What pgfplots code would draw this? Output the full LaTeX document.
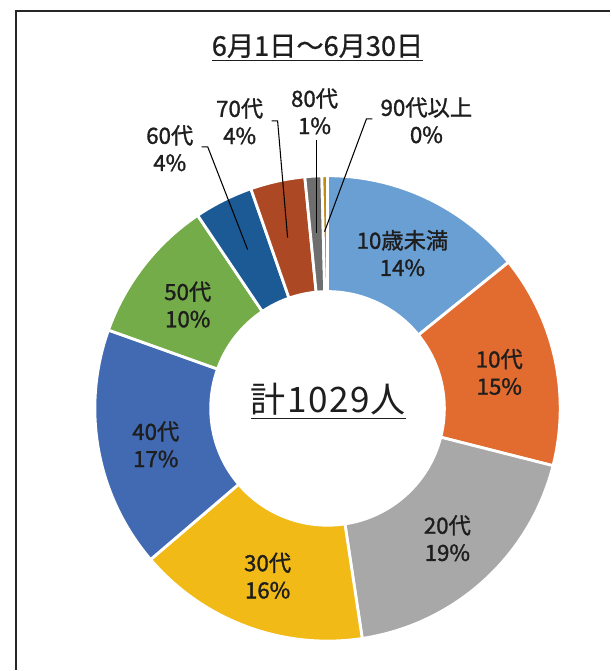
\documentclass[border=0pt]{standalone}
\usepackage{pgfplots}
\usepackage{pgfplotstable}
\pgfplotsset{compat=1.18}
\usepackage{fontspec}
\setmainfont{Noto Sans CJK JP}[FakeBold=1.3]
\newfontfamily\thinfont{Noto Sans CJK JP}[LetterSpace=4]
\newfontfamily\titlefont{Noto Sans CJK JP}[FakeBold=0.8]

\definecolor{c0}{RGB}{106,159,212}
\definecolor{c1}{RGB}{226,108,48}
\definecolor{c2}{RGB}{168,168,168}
\definecolor{c3}{RGB}{241,186,22}
\definecolor{c4}{RGB}{66,106,178}
\definecolor{c5}{RGB}{115,172,72}
\definecolor{c6}{RGB}{28,90,150}
\definecolor{c7}{RGB}{172,72,36}
\definecolor{c8}{RGB}{110,110,110}
\definecolor{c9}{RGB}{190,140,20}
\definecolor{txt}{RGB}{30,30,30}

% age group counts (total 1029)
\pgfplotstableread{
idx n
0 146
1 152
2 192
3 166
4 172
5 104
6 42
7 39
8 12
9 4
}\agedata

\begin{document}
\begin{tikzpicture}
\begin{axis}[
  x=0.02cm, y=0.02cm,
  xmin=0, xmax=611, ymin=0, ymax=671,
  hide axis, clip=false,
  scale only axis,
]
\fill[white] (axis cs:0,0) rectangle (axis cs:611,671);
% frame
\draw[black!85, line width=1.1pt] (axis cs:611,660) -- (axis cs:16,660) -- (axis cs:16,0);

\def\cx{328}
\def\cy{262}
\def\Ro{233}
\def\Ri{117}
\def\cum{0}
\pgfplotsforeachungrouped \i in {0,...,9}{%
  \pgfplotstablegetelem{\i}{n}\of\agedata
  \let\nval=\pgfplotsretval
  \pgfmathsetmacro{\sa}{90-\cum/1029*360}%
  \pgfmathsetmacro{\newcum}{\cum+\nval}%
  \global\let\cum=\newcum
  \pgfmathsetmacro{\ea}{90-\cum/1029*360}%
  \pgfmathsetmacro{\xa}{\cx+\Ro*cos(\sa)}%
  \pgfmathsetmacro{\ya}{\cy+\Ro*sin(\sa)}%
  \pgfmathsetmacro{\xb}{\cx+\Ri*cos(\ea)}%
  \pgfmathsetmacro{\yb}{\cy+\Ri*sin(\ea)}%
  \edef\cmd{\noexpand\filldraw[fill=c\i, draw=white, line width=1.6pt, line join=miter]
    (axis cs:\xa,\ya) arc[start angle=\sa, end angle=\ea, radius=4.66cm]
    -- (axis cs:\xb,\yb) arc[start angle=\ea, end angle=\sa, radius=2.34cm] -- cycle;}%
  \cmd
}

% leader lines
\addplot[black, line width=0.6pt] coordinates {(202,524) (208,524) (248,421)};
\addplot[black, line width=0.6pt] coordinates {(272,550) (278,550) (288,433)};
\addplot[black, line width=0.6pt] coordinates {(317,531) (317,438)};
\addplot[black, line width=0.6pt] coordinates {(373,552) (367,552) (325,439)};

% labels
\tikzset{lbl/.style={text=txt, align=center, inner sep=0pt, font=\fontsize{12.7}{15.5}\selectfont}}
\node[lbl] at (axis cs:403,417.5) {10歳未満\\14\%};
\node[lbl] at (axis cs:500,298.5) {10代\\15\%};
\node[lbl] at (axis cs:448,132) {20代\\19\%};
\node[lbl] at (axis cs:268,94.5) {30代\\16\%};
\node[lbl] at (axis cs:156,226) {40代\\17\%};
\node[lbl] at (axis cs:188,366) {50代\\10\%};
\node[lbl] at (axis cs:170,522.5) {60代\\4\%};
\node[lbl] at (axis cs:240,549.5) {70代\\4\%};
\node[lbl] at (axis cs:315,559.5) {80代\\1\%};
\node[lbl] at (axis cs:427,550.5) {90代以上\\0\%};

\node[text=txt, inner sep=0pt, font=\thinfont\fontsize{20}{23}\selectfont] at (axis cs:329,269) {\underline{計1029人}};
\node[text=txt, inner sep=0pt, font=\titlefont\fontsize{15.5}{18}\selectfont] at (axis cs:318,623) {\underline{6月1日～6月30日}};
\end{axis}
\end{tikzpicture}
\end{document}
